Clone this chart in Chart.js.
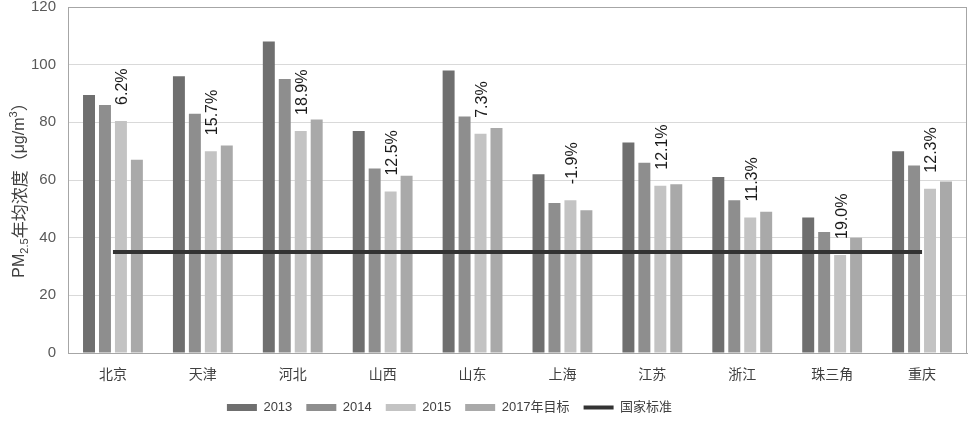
<!DOCTYPE html>
<html>
<head>
<meta charset="utf-8">
<script src="https://cdn.jsdelivr.net/npm/chart.js@4.4.1/dist/chart.umd.min.js"></script>
<style>
  html, body { margin: 0; padding: 0; background: #fff; }
  #wrap { width: 974px; height: 424px; }
</style>
</head>
<body>
<div id="wrap"><canvas id="c"></canvas></div>
<script>
// ─── DATOS ────────────────────────────────────────────────────────────────
const cities = ['北京', '天津', '河北', '山西', '山东', '上海', '江苏', '浙江', '珠三角', '重庆'];
const pm2013 = [89.5, 96, 108, 77, 98, 62, 73, 61, 47, 70];
const pm2014 = [86, 83, 95, 64, 82, 52, 66, 53, 42, 65];
const pm2015 = [80.5, 70, 77, 56, 76, 53, 58, 47, 34, 57];
const target2017 = [67, 72, 81, 61.5, 78, 49.5, 58.5, 49, 40, 59.5];
const nationalStd = [35, 35, 35, 35, 35, 35, 35, 35, 35, 35];
const dropLabels = ['6.2%', '15.7%', '18.9%', '12.5%', '7.3%', '-1.9%', '12.1%', '11.3%', '19.0%', '12.3%'];
const yTicks = [0, 20, 40, 60, 80, 100, 120];

const LATIN = '"Liberation Sans", "Noto Sans CJK SC", sans-serif';
const CJK = '"Noto Sans CJK SC", "Liberation Sans", sans-serif';

// marco del área de trazado
const framePlugin = {
  id: 'frame',
  afterLayout(chart) {
    // la leyenda del original no está centrada en el lienzo
    if (chart.legend) {
      chart.legend.left -= 34;
      chart.legend.right -= 34;
    }
  },
  afterDraw(chart) {
    const { ctx, chartArea: a } = chart;
    ctx.save();
    ctx.strokeStyle = '#a6a6a6';
    ctx.lineWidth = 1;
    ctx.strokeRect(a.left + 0.5, a.top + 0.5, a.right - a.left - 1, a.bottom - a.top);
    ctx.restore();
  }
};

// etiquetas de porcentaje giradas sobre las barras de 2015
const dropLabelPlugin = {
  id: 'dropLabels',
  afterDatasetsDraw(chart) {
    const meta = chart.getDatasetMeta(2);
    const ctx = chart.ctx;
    ctx.save();
    ctx.font = '16px ' + LATIN;
    ctx.fillStyle = '#1a1a1a';
    ctx.textAlign = 'left';
    ctx.textBaseline = 'middle';
    meta.data.forEach((bar, i) => {
      ctx.save();
      ctx.translate(bar.x + 2, bar.y - 16);
      ctx.rotate(-Math.PI / 2);
      ctx.fillText(dropLabels[i], 0, 0);
      ctx.restore();
    });
    ctx.restore();
  }
};

// título del eje Y con subíndice y superíndice
const yTitlePlugin = {
  id: 'yTitle',
  afterDraw(chart) {
    const { ctx, chartArea: a } = chart;
    const parts = [
      { t: 'PM', f: '16px ' + LATIN, dy: 0 },
      { t: '2.5', f: '11px ' + LATIN, dy: 5 },
      { t: '年均浓度（', f: '17px ' + CJK, dy: 0 },
      { t: 'μg/m', f: '16px ' + LATIN, dy: 0 },
      { t: '3', f: '11px ' + LATIN, dy: -6 },
      { t: '）', f: '17px ' + CJK, dy: 0 }
    ];
    ctx.save();
    let total = 0;
    parts.forEach(p => { ctx.font = p.f; p.w = ctx.measureText(p.t).width; total += p.w; });
    ctx.translate(20, (a.top + a.bottom) / 2 + 6);
    ctx.rotate(-Math.PI / 2);
    ctx.fillStyle = '#404040';
    ctx.textBaseline = 'middle';
    let x = -total / 2;
    parts.forEach(p => {
      ctx.font = p.f;
      ctx.fillText(p.t, x, p.dy);
      x += p.w;
    });
    ctx.restore();
  }
};

const barBase = { categoryPercentage: 0.71, barPercentage: 0.75, borderWidth: 0, order: 1 };

new Chart(document.getElementById('c'), {
  type: 'bar',
  data: {
    labels: cities,
    datasets: [
      { ...barBase, label: '2013', data: pm2013, backgroundColor: '#6f6f6f' },
      { ...barBase, label: '2014', data: pm2014, backgroundColor: '#8e8e8e' },
      { ...barBase, label: '2015', data: pm2015, backgroundColor: '#c3c3c3' },
      { ...barBase, label: '2017年目标', data: target2017, backgroundColor: '#a9a9a9' },
      {
        type: 'line', label: '国家标准', data: nationalStd,
        borderColor: '#333333', backgroundColor: '#333333', borderWidth: 4,
        pointRadius: 0, order: 0
      }
    ]
  },
  options: {
    responsive: true,
    maintainAspectRatio: false,
    animation: false,
    layout: { padding: { left: 0, right: 7, top: 7, bottom: 0 } },
    plugins: {
      tooltip: { enabled: false },
      legend: {
        position: 'bottom',
        labels: {
          usePointStyle: true,
          pointStyleWidth: 30,
          boxWidth: 30,
          boxHeight: 7,
          padding: 14,
          color: '#404040',
          font: { family: LATIN, size: 13 },
          generateLabels(chart) {
            const items = Chart.defaults.plugins.legend.labels.generateLabels(chart);
            items.forEach(it => {
              const ds = chart.data.datasets[it.datasetIndex];
              if (ds.type === 'line') {
                it.pointStyle = 'line';
                it.lineWidth = 4;
                it.strokeStyle = ds.borderColor;
              } else {
                it.pointStyle = 'rect';
                it.lineWidth = 0;
              }
            });
            return items.sort((p, q) => p.datasetIndex - q.datasetIndex);
          }
        }
      }
    },
    scales: {
      x: {
        grid: { display: false },
        border: { display: true, color: '#a6a6a6' },
        ticks: { color: '#404040', font: { family: CJK, size: 14 }, padding: 4 },
        afterFit(scale) { scale.height = 34; }
      },
      y: {
        min: 0,
        max: 120,
        afterBuildTicks(scale) { scale.ticks = yTicks.map(v => ({ value: v })); },
        grid: { color: '#d9d9d9', drawTicks: false },
        border: { display: true, color: '#a6a6a6' },
        ticks: { color: '#595959', font: { family: LATIN, size: 15 }, padding: 12 },
        afterFit(scale) {
          scale.width = 68;
          scale.paddingTop = 0;
          scale.paddingBottom = 0;
        }
      }
    }
  },
  plugins: [framePlugin, dropLabelPlugin, yTitlePlugin]
});
</script>
</body>
</html>
